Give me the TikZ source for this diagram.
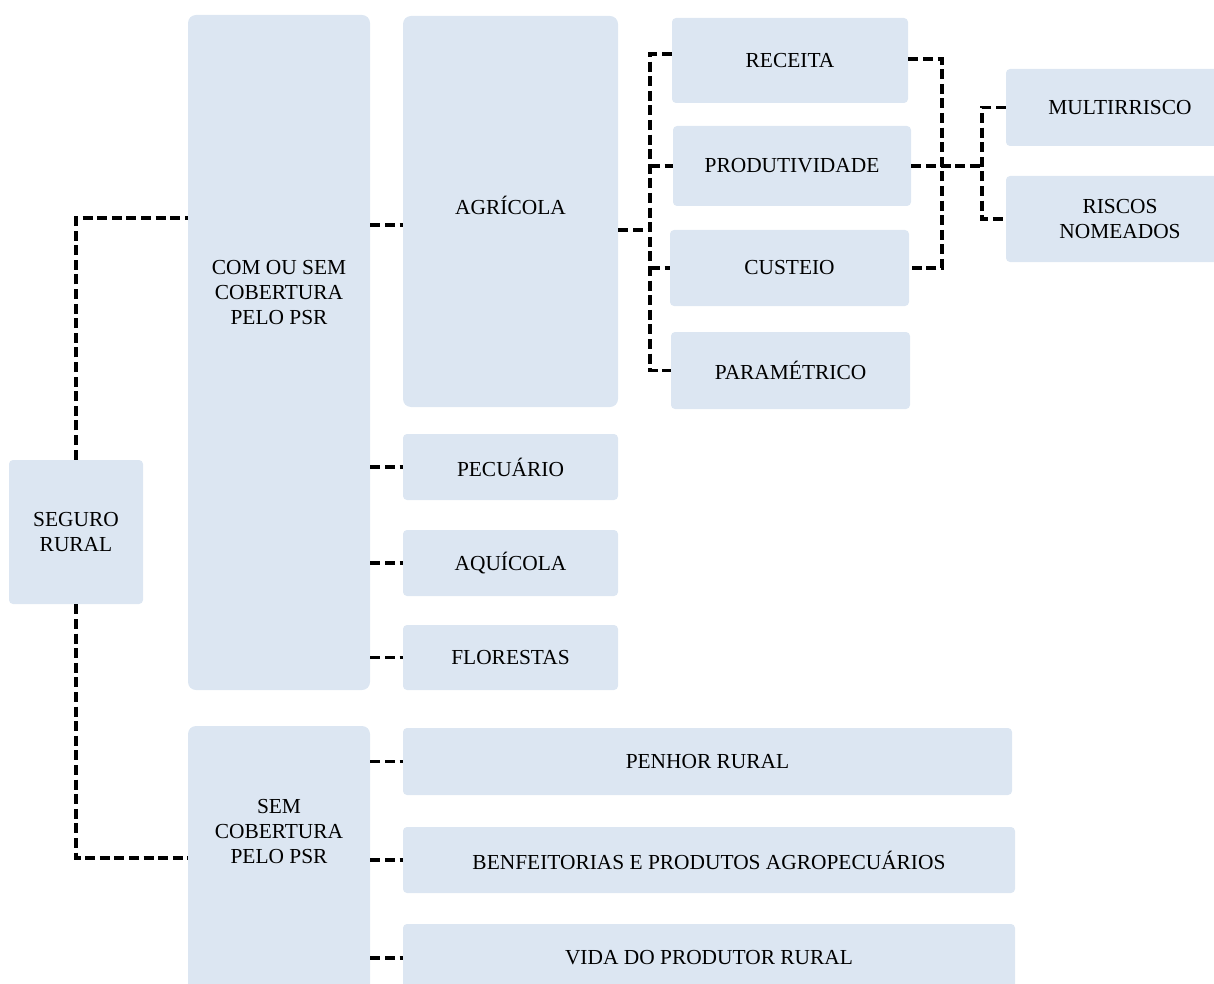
\documentclass[tikz,border=0pt]{standalone}
\usepackage{fontspec}
\setmainfont{Liberation Serif}
\usepackage{tikz}
\usetikzlibrary{calc}

\definecolor{azulclaro}{RGB}{220,230,242}
\tikzset{
	caixa/.style={fill=azulclaro, draw=none, rounded corners=2pt, inner sep=0pt, align=center, font=\fontsize{10.7}{12.5}\selectfont},
	rotulo/.style={align=center, font=\fontsize{10.7}{12.5}\selectfont},
	ligacao/.style={draw=black, line width=1.6pt, dash pattern=on 5pt off 2.3pt}
}

\begin{document}
\begin{tikzpicture}[x=0.5pt, y=-0.5pt]
	
	\useasboundingbox (0,0) rectangle (1214,984);
	\clip (0,0) rectangle (1214,984);
	
	\node[caixa, minimum width=67pt, minimum height=72pt] (seguro) at (76,532) {SEGURO\\RURAL};
	
	\node[caixa, rounded corners=4pt, minimum width=91pt, minimum height=337.5pt, label={[rotulo, yshift=30pt]center:{COM OU SEM\\COBERTURA\\PELO PSR}}] (com) at (279,352.5) {};
	\node[caixa, rounded corners=4pt, minimum width=91pt, minimum height=137pt, label={[rotulo, yshift=15.5pt]center:{SEM\\COBERTURA\\PELO PSR}}] (sem) at (279,863) {};
	
	\node[caixa, rounded corners=4pt, minimum width=107.5pt, minimum height=195.5pt, label={[rotulo, yshift=3pt]center:{AGRÍCOLA}}] (agricola) at (510.5,211.5) {};
	\node[caixa, minimum width=107.5pt, minimum height=33pt] (pecuario) at (510.5,467) {PECUÁRIO};
	\node[caixa, minimum width=107.5pt, minimum height=33pt] (aquicola) at (510.5,563) {AQUÍCOLA};
	\node[caixa, minimum width=107.5pt, minimum height=32.5pt] (florestas) at (510.5,657.5) {FLORESTAS};
	
	\node[caixa, minimum width=118pt, minimum height=42.5pt] (receita) at (790,60.5) {RECEITA};
	\node[caixa, minimum width=119pt, minimum height=40pt] (produtividade) at (792,166) {PRODUTIVIDADE};
	\node[caixa, minimum width=119.5pt, minimum height=38pt] (custeio) at (789.5,268) {CUSTEIO};
	\node[caixa, minimum width=119.5pt, minimum height=38.5pt] (parametrico) at (790.5,370.5) {PARAMÉTRICO};
	
	\node[caixa, minimum width=114pt, minimum height=38.5pt] (multirrisco) at (1120,107.5) {MULTIRRISCO};
	\node[caixa, minimum width=114pt, minimum height=43pt] (riscos) at (1120,219) {RISCOS\\NOMEADOS};
	
	\node[caixa, minimum width=304.5pt, minimum height=33.5pt] (penhor) at (707.5,761.5) {PENHOR RURAL};
	\node[caixa, minimum width=306pt, minimum height=33pt] (benfeitorias) at (709,860) {BENFEITORIAS E PRODUTOS AGROPECUÁRIOS};
	\node[caixa, minimum width=306pt, minimum height=34pt] (vida) at (709,958) {VIDA DO PRODUTOR RURAL};
	
	\coordinate (barra1) at (650,230);
	\coordinate (barra2) at (942,166);
	\coordinate (barra3) at (982,166);
	
	\draw[ligacao] (seguro.north) |- (com.west |- 0,218);
	\draw[ligacao] (seguro.south) |- (sem.west |- 0,858);
	
	\draw[ligacao] (com.east |- 0,225) -- (agricola.west |- 0,225);
	\draw[ligacao] (com.east |- pecuario.west) -- (pecuario.west);
	\draw[ligacao] (com.east |- aquicola.west) -- (aquicola.west);
	\draw[ligacao] (com.east |- florestas.west) -- (florestas.west);
	
	\draw[ligacao] (sem.east |- penhor.west) -- (penhor.west);
	\draw[ligacao] (sem.east |- benfeitorias.west) -- (benfeitorias.west);
	\draw[ligacao] (sem.east |- vida.west) -- (vida.west);
	
	\draw[ligacao] (agricola.east |- barra1) -- (barra1);
	\draw[ligacao] ([yshift=3.25pt]receita.west) -| (barra1) |- (parametrico.west);
	\draw[ligacao] (barra1 |- produtividade.west) -- (produtividade.west);
	\draw[ligacao] (barra1 |- custeio.west) -- (custeio.west);
	
	\draw[ligacao] ([yshift=0.75pt]receita.east) -| (barra2) |- (custeio.east);
	\draw[ligacao] (produtividade.east) -- (barra3);
	\draw[ligacao] (multirrisco.west) -| (barra3) |- (riscos.west);
	
\end{tikzpicture}
\end{document}
